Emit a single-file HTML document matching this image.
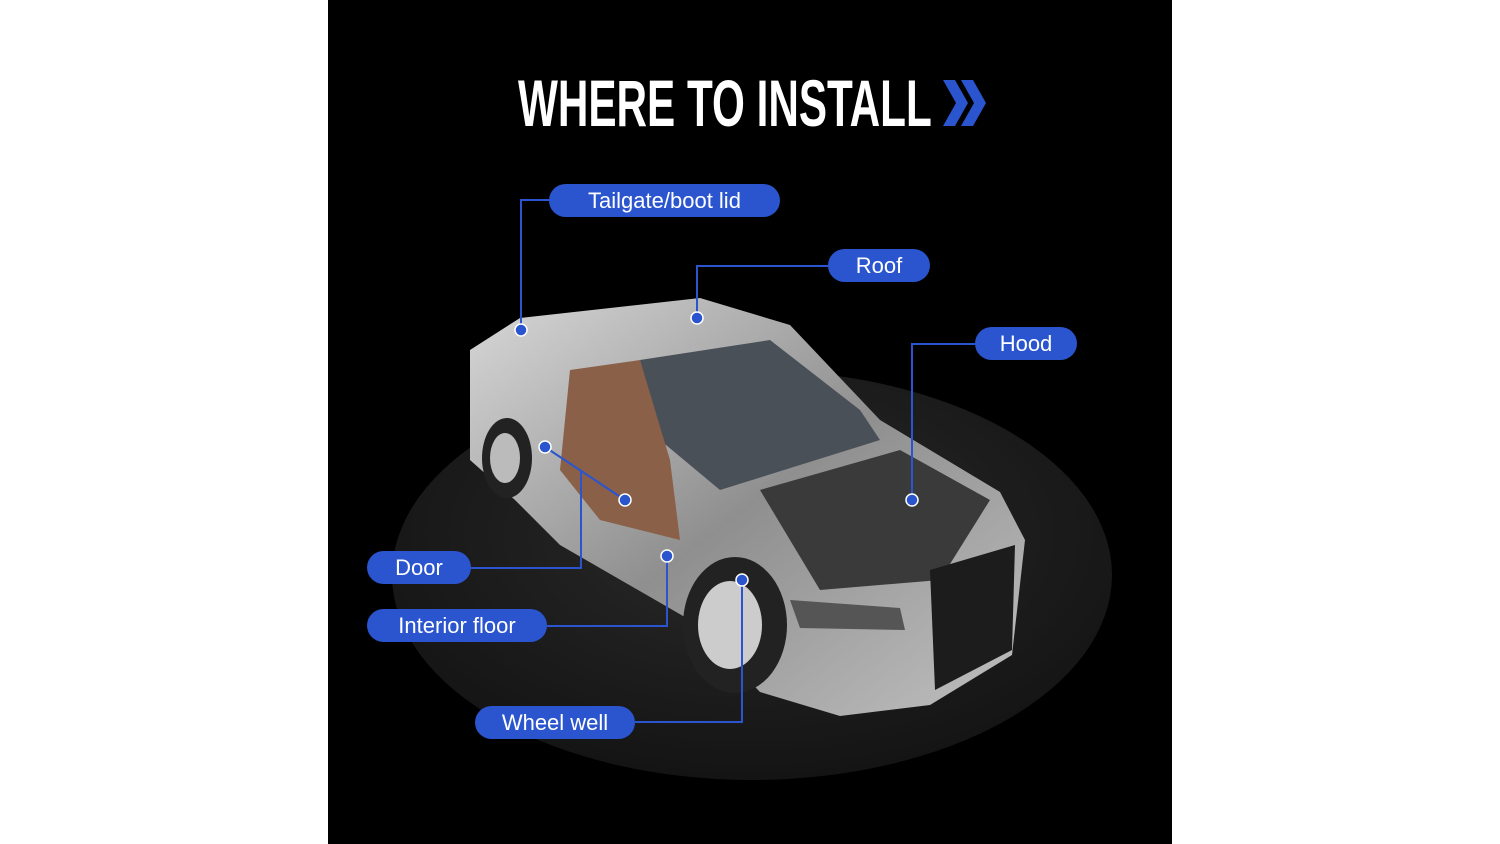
<!DOCTYPE html>
<html><head><meta charset="utf-8"><style>
body{margin:0;width:1500px;height:844px;background:#fff;position:relative;overflow:hidden;font-family:"Liberation Sans",sans-serif}
#panel{position:absolute;left:328px;top:0;width:844px;height:844px;background:#000}
.title{position:absolute;left:518px;top:68px;height:70px;color:#fff;font-weight:bold;font-size:66px;line-height:70px;white-space:nowrap;transform-origin:left top;transform:scaleX(0.64);font-family:"Liberation Sans Narrow","Liberation Sans",sans-serif}
.pill{position:absolute;height:33px;border-radius:17px;background:#2a55cf;color:#fff;font-size:22px;line-height:33px;text-align:center;white-space:nowrap}
</style></head><body>
<div id="panel"></div>
<svg width="1500" height="844" style="position:absolute;left:0;top:0">
<defs>
<radialGradient id="plat" cx="50%" cy="40%" r="60%"><stop offset="0" stop-color="#2a2a2a"/><stop offset="1" stop-color="#141414"/></radialGradient>
<linearGradient id="body" x1="0" y1="0" x2="1" y2="1"><stop offset="0" stop-color="#d8d8d8"/><stop offset="0.5" stop-color="#8f8f8f"/><stop offset="1" stop-color="#c0c0c0"/></linearGradient>
</defs>
<ellipse cx="752" cy="575" rx="360" ry="205" fill="url(#plat)"/>
<polygon points="470,350 520,318 700,298 790,325 880,420 1000,492 1025,540 1012,655 930,705 840,716 760,692 690,620 560,545 515,500 470,460" fill="url(#body)"/>
<polygon points="640,360 770,340 860,410 880,440 720,490 660,440" fill="#4a5058"/>
<polygon points="570,370 640,360 670,460 680,540 600,520 560,470" fill="#8a6048"/>
<polygon points="760,490 900,450 990,500 940,580 820,590" fill="#3a3a3a"/>
<polygon points="930,570 1015,545 1012,650 935,690" fill="#1c1c1c"/>
<ellipse cx="735" cy="625" rx="52" ry="68" fill="#222"/>
<ellipse cx="730" cy="625" rx="32" ry="44" fill="#ccc"/>
<ellipse cx="507" cy="458" rx="25" ry="40" fill="#222"/>
<ellipse cx="505" cy="458" rx="15" ry="25" fill="#bbb"/>
<polygon points="790,600 900,608 905,630 800,628" fill="#555"/>
<g stroke="#2a55cf" stroke-width="2" fill="none">
<polyline points="549,200 521,200 521,330"/>
<polyline points="828,266 697,266 697,318"/>
<polyline points="975,344 912,344 912,500"/>
<polyline points="471,568 581,568 581,470"/>
<polyline points="545,447 625,500"/>
<polyline points="547,626 667,626 667,556"/>
<polyline points="635,722 742,722 742,580"/>
</g>
<g fill="#2a55cf" stroke="#fff" stroke-width="1.5">
<circle cx="521" cy="330" r="6"/><circle cx="697" cy="318" r="6"/><circle cx="912" cy="500" r="6"/>
<circle cx="545" cy="447" r="6"/><circle cx="625" cy="500" r="6"/><circle cx="667" cy="556" r="6"/><circle cx="742" cy="580" r="6"/>
</g>
<polygon points="943,80 955,80 968,103 955,126 943,126 956,103" fill="#2a55cf"/>
<polygon points="961,80 973,80 986,103 973,126 961,126 974,103" fill="#2a55cf"/>
</svg>
<div class="title">WHERE TO INSTALL</div>
<div class="pill" style="left:549px;top:184px;width:231px">Tailgate/boot lid</div>
<div class="pill" style="left:828px;top:249px;width:102px">Roof</div>
<div class="pill" style="left:975px;top:327px;width:102px">Hood</div>
<div class="pill" style="left:367px;top:551px;width:104px">Door</div>
<div class="pill" style="left:367px;top:609px;width:180px">Interior floor</div>
<div class="pill" style="left:475px;top:706px;width:160px">Wheel well</div>
</body></html>
